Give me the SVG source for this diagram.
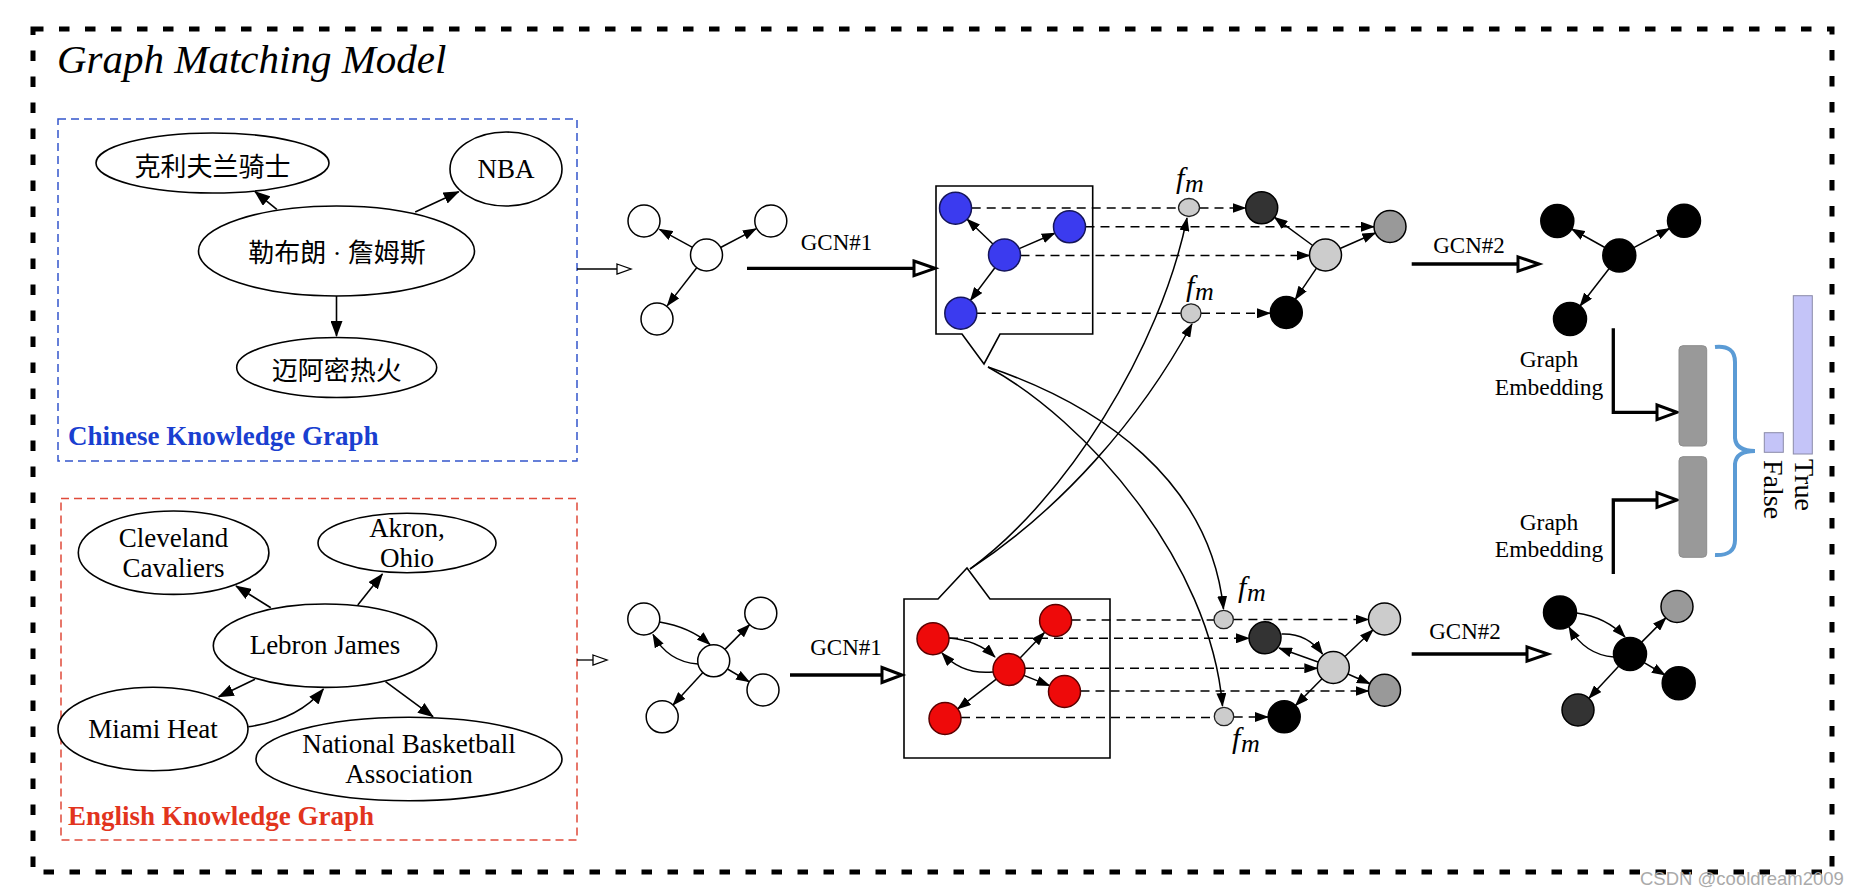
<svg xmlns="http://www.w3.org/2000/svg" width="1856" height="896" viewBox="0 0 1856 896">
<defs>
<marker id="ah" viewBox="0 0 14 10" refX="13" refY="5" markerWidth="14" markerHeight="10" markerUnits="userSpaceOnUse" orient="auto"><path d="M0,0 L14,5 L0,10 z" fill="#000"/></marker>
<marker id="ahL" viewBox="0 0 16 12" refX="15" refY="6" markerWidth="16" markerHeight="12" markerUnits="userSpaceOnUse" orient="auto"><path d="M0,0 L16,6 L0,12 z" fill="#000"/></marker>
</defs>
<style>
.serif{font-family:"Liberation Serif","Times New Roman",serif}
.cjk{font-family:"Liberation Serif","Noto Sans CJK SC",sans-serif;font-size:26px;text-anchor:middle}
.kg{fill:#fff;stroke:#000;stroke-width:1.6}
.lbl{font-family:"Liberation Serif","Times New Roman",serif;font-size:27px;text-anchor:middle}
.e{stroke:#000;stroke-width:1.5;fill:none;marker-end:url(#ah)}
.ek{stroke:#000;stroke-width:1.6;fill:none;marker-end:url(#ahL)}
.d{stroke:#000;stroke-width:1.5;stroke-dasharray:9 6;fill:none}
.da{stroke:#000;stroke-width:1.5;stroke-dasharray:9 6;fill:none;marker-end:url(#ah)}
.n{stroke:#000;stroke-width:1.5}
.w{fill:#fff}.b{fill:#3b3bef;stroke:#15155a}.r{fill:#ee0a0a;stroke:#5a0000}
.lg{fill:#cccccc}.mg{fill:#999999}.dg{fill:#333333}.bk{fill:#000}
.fm{fill:#cccccc;stroke:#222;stroke-width:1.3}
.fmt{font-family:"Liberation Serif","Times New Roman",serif;font-style:italic}
.gcn{font-family:"Liberation Serif","Times New Roman",serif;font-size:23px;text-anchor:middle}
.thick{stroke:#000;stroke-width:3.3;fill:none}
.open{fill:#fff;stroke:#000;stroke-width:3}
.thin{stroke:#000;stroke-width:1.3;fill:none}
.openthin{fill:#fff;stroke:#000;stroke-width:1.3}
</style>

<rect x="33" y="29" width="1799" height="843" fill="none" stroke="#000" stroke-width="5" stroke-dasharray="10.5 15.5"/>
<text class="serif" x="57" y="73" font-size="41" font-style="italic">Graph Matching Model</text>

<!-- Chinese KG -->
<g id="chinese-kg">
<rect x="58" y="119" width="519" height="342" fill="none" stroke="#3355cc" stroke-width="1.5" stroke-dasharray="8 5"/>
<text class="serif" x="68" y="445" font-size="27" font-weight="bold" fill="#1a3fd0">Chinese Knowledge Graph</text>
</g>
<g id="cn-cavaliers"><ellipse class="kg" cx="212.5" cy="163" rx="116.5" ry="30"/><text class="cjk" x="212.5" y="176">克利夫兰骑士</text></g>
<g id="cn-nba"><ellipse class="kg" cx="506" cy="169" rx="56" ry="37"/><text class="lbl" x="506" y="178" font-size="26">NBA</text></g>
<g id="cn-lebron"><ellipse class="kg" cx="336.5" cy="251" rx="138" ry="45"/><text class="cjk" x="337" y="262">勒布朗 · 詹姆斯</text></g>
<g id="cn-heat"><ellipse class="kg" cx="336.7" cy="367.5" rx="100" ry="30"/><text class="cjk" x="336.7" y="380">迈阿密热火</text></g>

<!-- English KG -->
<g id="english-kg">
<rect x="61" y="498.5" width="516" height="341.5" fill="none" stroke="#e04a3a" stroke-width="1.5" stroke-dasharray="8 5"/>
<text class="serif" x="68" y="825" font-size="27" font-weight="bold" fill="#e2341d">English Knowledge Graph</text>
</g>
<g id="en-cavaliers"><ellipse class="kg" cx="173.6" cy="552.7" rx="95.3" ry="41.7"/><text class="lbl" x="173.6" y="546.7">Cleveland</text><text class="lbl" x="173.6" y="576.7">Cavaliers</text></g>
<g id="en-akron"><ellipse class="kg" cx="407" cy="543" rx="89" ry="29.7"/><text class="lbl" x="407" y="537.3">Akron,</text><text class="lbl" x="407" y="567.3">Ohio</text></g>
<g id="en-lebron"><ellipse class="kg" cx="325" cy="645.7" rx="111.7" ry="41.7"/><text class="lbl" x="325" y="654">Lebron James</text></g>
<g id="en-heat"><ellipse class="kg" cx="153" cy="729" rx="95" ry="41.7"/><text class="lbl" x="153" y="738.3">Miami Heat</text></g>
<g id="en-nba"><ellipse class="kg" cx="409" cy="759" rx="153" ry="41.7"/><text class="lbl" x="409" y="753.3">National Basketball</text><text class="lbl" x="409" y="783.3">Association</text></g>

<!-- callout boxes -->
<g id="callout-cn"><path d="M936,186 H1092.7 V334 H1000 L984,364 L962,334 H936 Z" fill="#fff" stroke="#000" stroke-width="1.6"/></g>
<g id="callout-en"><path d="M904,599 H938 L967,568 L990,599 H1110 V758 H904 Z" fill="#fff" stroke="#000" stroke-width="1.6"/></g>

<g id="connectors">
<!-- KG edges -->
<line class="ek" x1="276.8" y1="209.3" x2="255" y2="191.7"/>
<line class="ek" x1="415.2" y1="212" x2="458.7" y2="191.7"/>
<line class="ek" x1="336.5" y1="296" x2="336.5" y2="336"/>
<line class="ek" x1="270.8" y1="607.7" x2="236" y2="586"/>
<line class="ek" x1="357.8" y1="605" x2="382.4" y2="574"/>
<line class="ek" x1="255" y1="679.3" x2="218.7" y2="696.7"/>
<path class="ek" d="M248.3,726.7 Q298,720 323.4,689"/>
<line class="ek" x1="385.5" y1="681.7" x2="433" y2="716.7"/>
<!-- small open arrows -->
<line class="thin" x1="577" y1="269" x2="617" y2="269"/><polygon class="openthin" points="617,264 631,269 617,274"/>
<line class="thin" x1="577" y1="660" x2="593" y2="660"/><polygon class="openthin" points="593,655 607,660 593,665"/>
<!-- white graph top -->
<line class="e" x1="692.5" y1="247.4" x2="659.5" y2="229.3"/>
<line class="e" x1="720.6" y1="247.5" x2="756" y2="228.8"/>
<line class="e" x1="696.7" y1="267.7" x2="667.3" y2="305.6"/>
<!-- white graph bottom -->
<path class="e" d="M659.5,622 Q690,627 710,644.5"/>
<path class="e" d="M698,664 Q668,662 653,634.5"/>
<line class="e" x1="724.9" y1="649.4" x2="749.6" y2="624.6"/>
<line class="e" x1="727.5" y1="669" x2="749.2" y2="681.8"/>
<line class="e" x1="702.9" y1="672.6" x2="673" y2="705"/>
<!-- GCN#1 arrows -->
<line class="thick" x1="747" y1="268.3" x2="914" y2="268.3"/><polygon class="open" points="914,261 935,268.3 914,275.6"/>
<line class="thick" x1="790" y1="675" x2="882" y2="675"/><polygon class="open" points="882,667.5 902,675 882,682.5"/>
<!-- blue graph -->
<line class="e" x1="992.9" y1="244" x2="967.1" y2="219.2"/>
<line class="e" x1="1019.2" y1="248.6" x2="1054.8" y2="233.2"/>
<line class="e" x1="994.9" y1="267.8" x2="970.4" y2="300.4"/>
<!-- red graph -->
<path class="e" d="M949,638 Q977,640 995,657"/>
<path class="e" d="M993,672 Q962,675 942,653"/>
<line class="e" x1="1020.1" y1="658" x2="1044.5" y2="632.5"/>
<line class="e" x1="1023.9" y1="675.4" x2="1049.6" y2="685.6"/>
<line class="e" x1="996.3" y1="679.2" x2="957.7" y2="708.8"/>
<!-- dashed top -->
<path class="d" d="M971.7,208 H1178.5"/>
<path class="da" d="M1199.5,208 H1245.5"/>
<path class="da" d="M1085.5,226.7 H1374"/>
<path class="da" d="M1020.5,255.5 H1309.5"/>
<path class="d" d="M976.8,313.3 H1181"/>
<path class="da" d="M1201,313.3 H1270"/>
<!-- dashed bottom -->
<path class="d" d="M1071.6,620 H1214"/>
<path class="da" d="M1233.4,619.5 H1368.5"/>
<path class="da" d="M949,638.3 H1249"/>
<path class="da" d="M1025,668.3 H1317.3"/>
<path class="da" d="M1080.5,691 H1368.5"/>
<path class="d" d="M961,717.5 H1214.3"/>
<path class="da" d="M1233.7,717 H1268"/>
<!-- crossing curves -->
<path class="e" d="M988,367 C1100,405 1210,480 1223.5,609"/>
<path class="e" d="M988,367 C1085,420 1210,560 1222.5,706"/>
<path class="e" d="M970,569 C1065,500 1160,350 1187,218"/>
<path class="e" d="M970,569 C1060,510 1140,420 1192,324"/>
<!-- top after-fm graph -->
<line class="e" x1="1312.7" y1="245.5" x2="1274.5" y2="217.3"/>
<line class="e" x1="1340.1" y1="248.5" x2="1375.4" y2="233"/>
<line class="e" x1="1316.5" y1="268.2" x2="1295.3" y2="299.3"/>
<!-- bottom after-fm graph -->
<path class="e" d="M1281.5,634 Q1307,633 1322.5,654"/>
<line class="e" x1="1318" y1="662" x2="1279" y2="648"/>
<line class="e" x1="1344.9" y1="656.5" x2="1372.9" y2="630"/>
<line class="e" x1="1347.9" y1="674" x2="1369.9" y2="683.7"/>
<line class="e" x1="1322" y1="678.8" x2="1295.5" y2="705.5"/>
<!-- GCN#2 arrows -->
<line class="thick" x1="1411.7" y1="264" x2="1518" y2="264"/><polygon class="open" points="1518,256.8 1539,264 1518,271.2"/>
<line class="thick" x1="1411.7" y1="654" x2="1527" y2="654"/><polygon class="open" points="1527,646.8 1548,654 1527,661.2"/>
<!-- top black graph -->
<line class="e" x1="1604.9" y1="247.5" x2="1571.7" y2="229"/>
<line class="e" x1="1633.8" y1="247.7" x2="1669.5" y2="228.5"/>
<line class="e" x1="1609.2" y1="268.5" x2="1580.1" y2="306"/>
<!-- bottom black graph -->
<path class="e" d="M1576.5,613 Q1606,617 1625,637"/>
<path class="e" d="M1614,657 Q1585,655 1569,627"/>
<line class="e" x1="1641.2" y1="642.6" x2="1665.8" y2="617.9"/>
<line class="e" x1="1643.7" y1="662.3" x2="1665" y2="675"/>
<line class="e" x1="1619.1" y1="665.7" x2="1588.9" y2="698.3"/>
<!-- graph embedding elbows -->
<path class="thick" d="M1613.3,328.3 V412.3 H1657" stroke-width="3"/><polygon class="open" points="1657,405 1677,412.3 1657,419.6"/>
<path class="thick" d="M1613.3,574 V500 H1657" stroke-width="3"/><polygon class="open" points="1657,492.7 1677,500 1657,507.3"/>
</g>

<!-- nodes -->
<g id="w-top-1"><circle class="n w" cx="644" cy="221" r="16"/></g>
<g id="w-top-2"><circle class="n w" cx="770.8" cy="221" r="16"/></g>
<g id="w-top-3"><circle class="n w" cx="706.5" cy="255" r="16"/></g>
<g id="w-top-4"><circle class="n w" cx="657" cy="319" r="16"/></g>
<g id="w-bot-1"><circle class="n w" cx="643.8" cy="619" r="16"/></g>
<g id="w-bot-2"><circle class="n w" cx="760.8" cy="613.2" r="16"/></g>
<g id="w-bot-3"><circle class="n w" cx="713.7" cy="660.8" r="16"/></g>
<g id="w-bot-4"><circle class="n w" cx="763" cy="690" r="16"/></g>
<g id="w-bot-5"><circle class="n w" cx="662.2" cy="716.8" r="16"/></g>
<g id="gcn1-top-label"><text class="gcn" x="836.5" y="250">GCN#1</text></g>
<g id="gcn1-bot-label"><text class="gcn" x="846" y="655">GCN#1</text></g>

<g id="blue-1"><circle class="n b" cx="955.5" cy="208.2" r="16"/></g>
<g id="blue-2"><circle class="n b" cx="1069.5" cy="226.8" r="16"/></g>
<g id="blue-3"><circle class="n b" cx="1004.5" cy="255" r="16"/></g>
<g id="blue-4"><circle class="n b" cx="960.8" cy="313.2" r="16"/></g>
<g id="red-1"><circle class="n r" cx="933" cy="638.7" r="16"/></g>
<g id="red-2"><circle class="n r" cx="1055.6" cy="620.5" r="16"/></g>
<g id="red-3"><circle class="n r" cx="1009" cy="669.5" r="16"/></g>
<g id="red-4"><circle class="n r" cx="1064.5" cy="691.5" r="16"/></g>
<g id="red-5"><circle class="n r" cx="945" cy="718.5" r="16"/></g>

<g id="fm-1"><ellipse class="fm" cx="1189" cy="207.5" rx="10.5" ry="9"/><text class="fmt"><tspan x="1176" y="187.5" font-size="30">f</tspan><tspan x="1185" y="191.5" font-size="26">m</tspan></text></g>
<g id="fm-2"><ellipse class="fm" cx="1191" cy="313.3" rx="10" ry="9.5"/><text class="fmt"><tspan x="1186" y="296" font-size="30">f</tspan><tspan x="1195" y="300" font-size="26">m</tspan></text></g>
<g id="fm-3"><ellipse class="fm" cx="1223.7" cy="619.5" rx="9.7" ry="9.2"/><text class="fmt"><tspan x="1238" y="597" font-size="30">f</tspan><tspan x="1247" y="601" font-size="26">m</tspan></text></g>
<g id="fm-4"><ellipse class="fm" cx="1224" cy="716.5" rx="9.7" ry="9.2"/><text class="fmt"><tspan x="1232" y="747.5" font-size="30">f</tspan><tspan x="1241" y="751.5" font-size="26">m</tspan></text></g>

<g id="t-dark"><circle class="n dg" cx="1261.7" cy="207.8" r="16"/></g>
<g id="t-mid"><circle class="n mg" cx="1390" cy="226.5" r="16"/></g>
<g id="t-light"><circle class="n lg" cx="1325.5" cy="255" r="16"/></g>
<g id="t-black"><circle class="n bk" cx="1286.3" cy="312.5" r="16"/></g>
<g id="b-light-top"><circle class="n lg" cx="1384.5" cy="619" r="16"/></g>
<g id="b-dark"><circle class="n dg" cx="1265" cy="637.8" r="16"/></g>
<g id="b-light"><circle class="n lg" cx="1333.3" cy="667.5" r="16"/></g>
<g id="b-mid"><circle class="n mg" cx="1384.5" cy="690.2" r="16"/></g>
<g id="b-black"><circle class="n bk" cx="1284.2" cy="716.8" r="16"/></g>

<g id="gcn2-top-label"><text class="gcn" x="1469" y="253">GCN#2</text></g>
<g id="gcn2-bot-label"><text class="gcn" x="1465" y="639">GCN#2</text></g>

<g id="k-top-1"><circle class="n bk" cx="1557.3" cy="221" r="16.5"/></g>
<g id="k-top-2"><circle class="n bk" cx="1684" cy="220.7" r="16.5"/></g>
<g id="k-top-3"><circle class="n bk" cx="1619.3" cy="255.5" r="16.5"/></g>
<g id="k-top-4"><circle class="n bk" cx="1570" cy="319" r="16.5"/></g>
<g id="k-bot-1"><circle class="n bk" cx="1560" cy="612.5" r="16.5"/></g>
<g id="k-bot-2"><circle class="n mg" cx="1677" cy="606.5" r="16"/></g>
<g id="k-bot-3"><circle class="n bk" cx="1630" cy="654" r="16.5"/></g>
<g id="k-bot-4"><circle class="n bk" cx="1678.7" cy="683.3" r="16.5"/></g>
<g id="k-bot-5"><circle class="n dg" cx="1578" cy="710" r="16"/></g>

<g id="embed-top-label"><text class="serif" font-size="23.5" text-anchor="middle"><tspan x="1549" y="367.3">Graph</tspan><tspan x="1549" y="395">Embedding</tspan></text></g>
<g id="embed-bot-label"><text class="serif" font-size="23.5" text-anchor="middle"><tspan x="1549" y="530">Graph</tspan><tspan x="1549" y="557.3">Embedding</tspan></text></g>

<g id="embedding-bars">
<rect x="1679" y="345.7" width="27.7" height="100.3" rx="4" fill="#999" stroke="#8c8c8c" stroke-width="1"/>
<rect x="1679" y="456.7" width="27.7" height="100.6" rx="4" fill="#999" stroke="#8c8c8c" stroke-width="1"/>
</g>
<g id="brace"><path d="M1715,347 Q1735,345 1735,362 L1735,438 Q1736,451 1755,451 Q1736,451 1735,464 L1735,540 Q1735,556 1715,555" fill="none" stroke="#5b9bd5" stroke-width="4"/></g>
<g id="false-bar"><rect x="1764.3" y="432.7" width="19" height="19.6" fill="#c4c4f8" stroke="#8a8aa8" stroke-width="1"/><text class="serif" font-size="28" transform="translate(1764,460) rotate(90)">False</text></g>
<g id="true-bar"><rect x="1793.3" y="295.7" width="19" height="158.3" fill="#c4c4f8" stroke="#8a8aa8" stroke-width="1"/><text class="serif" font-size="28" transform="translate(1795,459) rotate(90)">True</text></g>

<text x="1640" y="885" font-family="Liberation Sans, Arial, sans-serif" font-size="18.5" fill="#aaaaaa">CSDN @cooldream2009</text>
</svg>
